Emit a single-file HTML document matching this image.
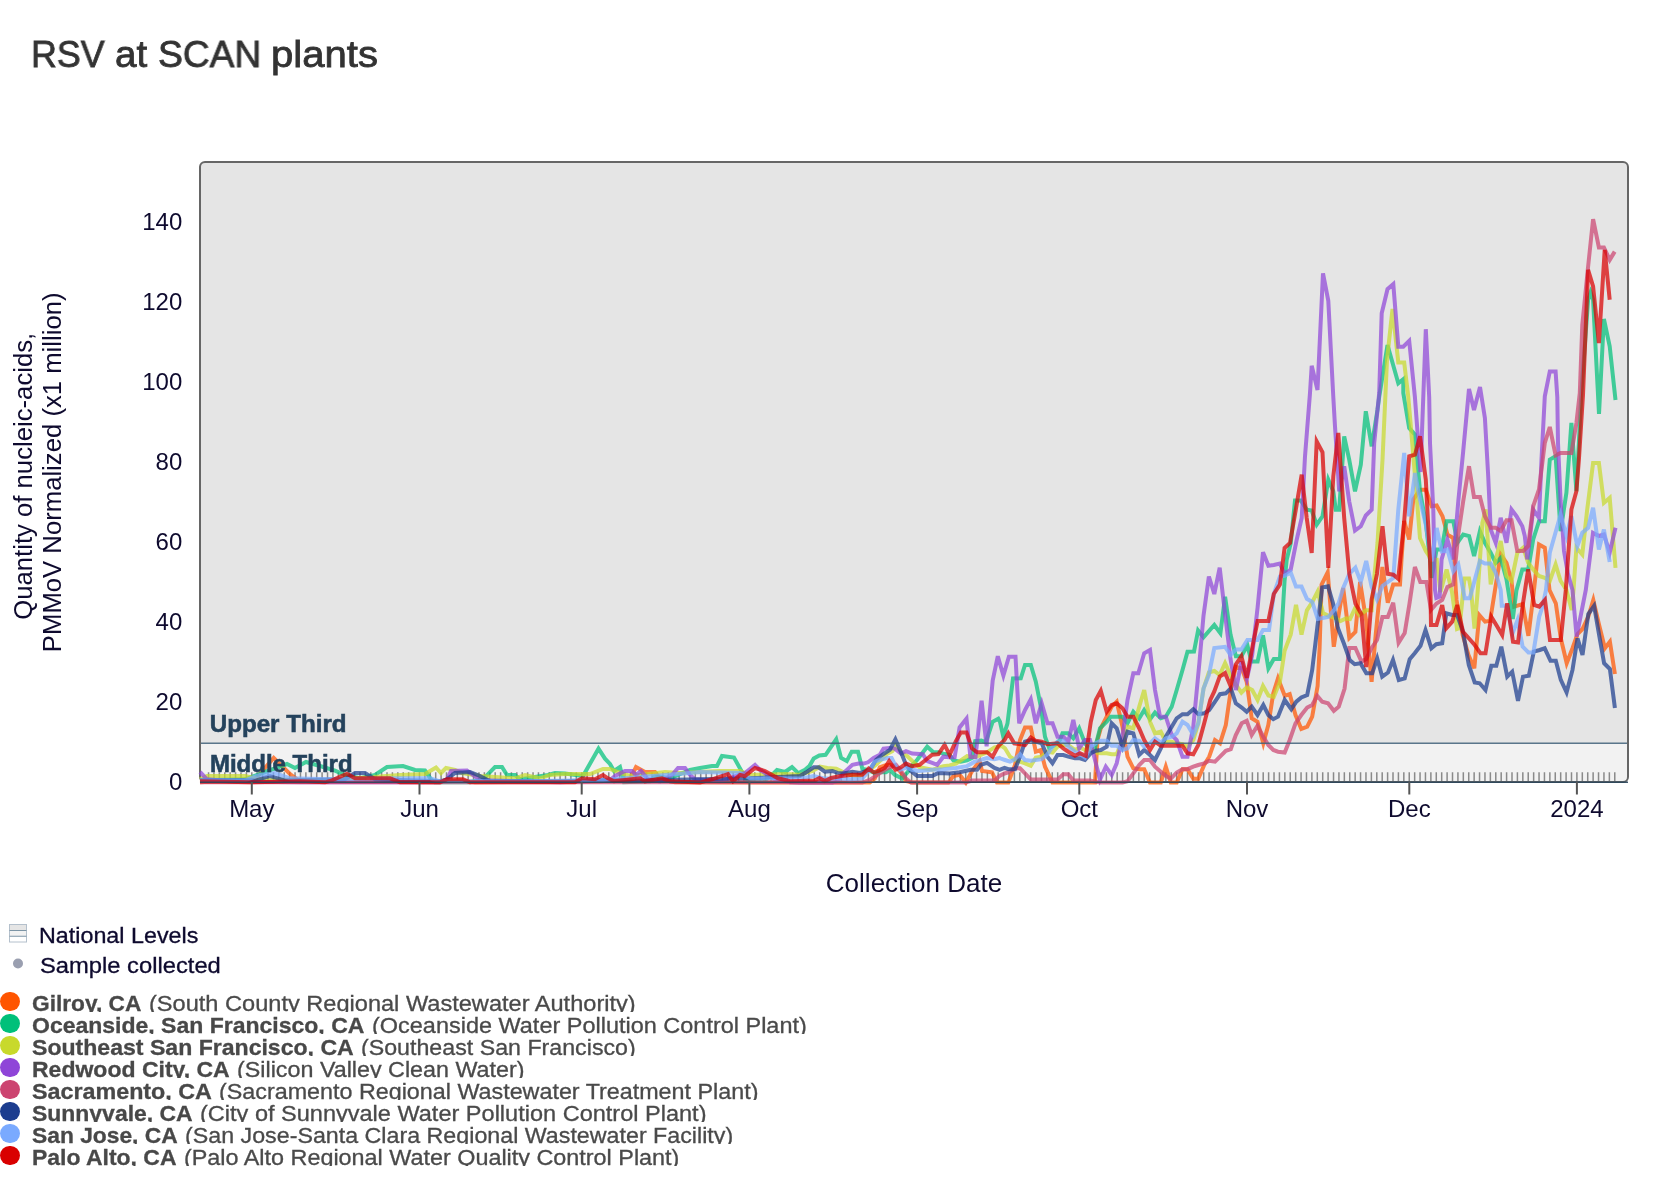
<!DOCTYPE html>
<html lang="en"><head><meta charset="utf-8"><title>RSV at SCAN plants</title>
<style>
html,body{margin:0;padding:0;background:#fff;}
body{width:1668px;height:1184px;position:relative;overflow:hidden;font-family:"Liberation Sans","DejaVu Sans",sans-serif;}
.sx{position:absolute;white-space:nowrap;transform-origin:0 0;display:block;will-change:transform;}
#title{position:absolute;left:0;margin:0;top:28.4px;height:52px;width:500px;font-size:37.5px;line-height:52px;font-weight:400;color:#333;-webkit-text-stroke:0.8px #333;}
#chart{position:absolute;left:0;top:0;will-change:transform;}
#chart text{font-family:"Liberation Sans",sans-serif;}
.ax{font-size:24px;fill:#0e0a2e;}
.at{font-size:26px;fill:#0e0a2e;}
.band{font-size:23.4px;font-weight:700;fill:#24425c;stroke:#24425c;stroke-width:0.55px;}
.lg1{font-size:21.6px;line-height:26px;color:#0e0a2e;-webkit-text-stroke:0.3px #0e0a2e;}
.row{position:absolute;left:0;height:20.7px;width:1000px;overflow:hidden;}
.row i{position:absolute;left:0;top:0;width:19.6px;height:19.6px;border-radius:50%;display:block;}
.row .sx{top:-0.75px;font-size:21.2px;line-height:26px;color:#4a4a4a;-webkit-text-stroke:0.3px #4a4a4a;}
.row b.sx{font-weight:700;color:#484848;}
</style></head><body>

<h1 id="title"><span class="sx" style="left:31.33px;transform:scaleX(0.9554)">RSV</span> <span class="sx" style="left:114.57px;transform:scaleX(1.029)">at</span> <span class="sx" style="left:158.01px;transform:scaleX(0.9921)">SCAN</span> <span class="sx" style="left:270.66px;transform:scaleX(1.0691)">plants</span></h1>
<svg id="chart" width="1668" height="1184" viewBox="0 0 1668 1184">
<rect x="200" y="162" width="1428" height="620" rx="5" ry="5" fill="#e5e5e5"/>
<rect x="201" y="743" width="1426" height="39" fill="#f2f2f2"/>
<path d="M208.53 772.3V782M213.94 772.3V782M219.35 772.3V782M224.76 772.3V782M230.16 772.3V782M235.57 772.3V782M240.98 772.3V782M246.39 772.3V782M251.80 772.3V782M257.21 772.3V782M262.62 772.3V782M268.02 772.3V782M273.43 772.3V782M278.84 772.3V782M284.25 772.3V782M289.66 772.3V782M295.07 772.3V782M300.48 772.3V782M305.88 772.3V782M311.29 772.3V782M316.70 772.3V782M322.11 772.3V782M327.52 772.3V782M332.93 772.3V782M338.34 772.3V782M343.75 772.3V782M349.15 772.3V782M354.56 772.3V782M359.97 772.3V782M365.38 772.3V782M370.79 772.3V782M376.20 772.3V782M381.61 772.3V782M387.01 772.3V782M392.42 772.3V782M397.83 772.3V782M403.24 772.3V782M408.65 772.3V782M414.06 772.3V782M419.47 772.3V782M424.87 772.3V782M430.28 772.3V782M435.69 772.3V782M441.10 772.3V782M446.51 772.3V782M451.92 772.3V782M457.33 772.3V782M462.73 772.3V782M468.14 772.3V782M473.55 772.3V782M478.96 772.3V782M484.37 772.3V782M489.78 772.3V782M495.19 772.3V782M500.59 772.3V782M506.00 772.3V782M511.41 772.3V782M516.82 772.3V782M522.23 772.3V782M527.64 772.3V782M533.05 772.3V782M538.45 772.3V782M543.86 772.3V782M549.27 772.3V782M554.68 772.3V782M560.09 772.3V782M565.50 772.3V782M570.91 772.3V782M576.31 772.3V782M581.72 772.3V782M587.13 772.3V782M592.54 772.3V782M597.95 772.3V782M603.36 772.3V782M608.77 772.3V782M614.17 772.3V782M619.58 772.3V782M624.99 772.3V782M630.40 772.3V782M635.81 772.3V782M641.22 772.3V782M646.63 772.3V782M652.04 772.3V782M657.44 772.3V782M662.85 772.3V782M668.26 772.3V782M673.67 772.3V782M679.08 772.3V782M684.49 772.3V782M689.90 772.3V782M695.30 772.3V782M700.71 772.3V782M706.12 772.3V782M711.53 772.3V782M716.94 772.3V782M722.35 772.3V782M727.76 772.3V782M733.16 772.3V782M738.57 772.3V782M743.98 772.3V782M749.39 772.3V782M754.80 772.3V782M760.21 772.3V782M765.62 772.3V782M771.02 772.3V782M776.43 772.3V782M781.84 772.3V782M787.25 772.3V782M792.66 772.3V782M798.07 772.3V782M803.48 772.3V782M808.88 772.3V782M814.29 772.3V782M819.70 772.3V782M825.11 772.3V782M830.52 772.3V782M835.93 772.3V782M841.34 772.3V782M846.74 772.3V782M852.15 772.3V782M857.56 772.3V782M862.97 772.3V782M868.38 772.3V782M873.79 772.3V782M879.20 772.3V782M884.60 772.3V782M890.01 772.3V782M895.42 772.3V782M900.83 772.3V782M906.24 772.3V782M911.65 772.3V782M917.06 772.3V782M922.47 772.3V782M927.87 772.3V782M933.28 772.3V782M938.69 772.3V782M944.10 772.3V782M949.51 772.3V782M954.92 772.3V782M960.33 772.3V782M965.73 772.3V782M971.14 772.3V782M976.55 772.3V782M981.96 772.3V782M987.37 772.3V782M992.78 772.3V782M998.19 772.3V782M1003.59 772.3V782M1009.00 772.3V782M1014.41 772.3V782M1019.82 772.3V782M1025.23 772.3V782M1030.64 772.3V782M1036.05 772.3V782M1041.45 772.3V782M1046.86 772.3V782M1052.27 772.3V782M1057.68 772.3V782M1063.09 772.3V782M1068.50 772.3V782M1073.91 772.3V782M1079.31 772.3V782M1084.72 772.3V782M1090.13 772.3V782M1095.54 772.3V782M1100.95 772.3V782M1106.36 772.3V782M1111.77 772.3V782M1117.17 772.3V782M1122.58 772.3V782M1127.99 772.3V782M1133.40 772.3V782M1138.81 772.3V782M1144.22 772.3V782M1149.63 772.3V782M1155.04 772.3V782M1160.44 772.3V782M1165.85 772.3V782M1171.26 772.3V782M1176.67 772.3V782M1182.08 772.3V782M1187.49 772.3V782M1192.90 772.3V782M1198.30 772.3V782M1203.71 772.3V782M1209.12 772.3V782M1214.53 772.3V782M1219.94 772.3V782M1225.35 772.3V782M1230.76 772.3V782M1236.16 772.3V782M1241.57 772.3V782M1246.98 772.3V782M1252.39 772.3V782M1257.80 772.3V782M1263.21 772.3V782M1268.62 772.3V782M1274.02 772.3V782M1279.43 772.3V782M1284.84 772.3V782M1290.25 772.3V782M1295.66 772.3V782M1301.07 772.3V782M1306.48 772.3V782M1311.88 772.3V782M1317.29 772.3V782M1322.70 772.3V782M1328.11 772.3V782M1333.52 772.3V782M1338.93 772.3V782M1344.34 772.3V782M1349.74 772.3V782M1355.15 772.3V782M1360.56 772.3V782M1365.97 772.3V782M1371.38 772.3V782M1376.79 772.3V782M1382.20 772.3V782M1387.60 772.3V782M1393.01 772.3V782M1398.42 772.3V782M1403.83 772.3V782M1409.24 772.3V782M1414.65 772.3V782M1420.06 772.3V782M1425.46 772.3V782M1430.87 772.3V782M1436.28 772.3V782M1441.69 772.3V782M1447.10 772.3V782M1452.51 772.3V782M1457.92 772.3V782M1463.33 772.3V782M1468.73 772.3V782M1474.14 772.3V782M1479.55 772.3V782M1484.96 772.3V782M1490.37 772.3V782M1495.78 772.3V782M1501.19 772.3V782M1506.59 772.3V782M1512.00 772.3V782M1517.41 772.3V782M1522.82 772.3V782M1528.23 772.3V782M1533.64 772.3V782M1539.05 772.3V782M1544.45 772.3V782M1549.86 772.3V782M1555.27 772.3V782M1560.68 772.3V782M1566.09 772.3V782M1571.50 772.3V782M1576.91 772.3V782M1582.31 772.3V782M1587.72 772.3V782M1593.13 772.3V782M1598.54 772.3V782M1603.95 772.3V782M1609.36 772.3V782M1614.77 772.3V782" stroke="#8a8a8a" stroke-width="1.5" fill="none"/>
<rect x="200" y="162" width="1428" height="620" rx="5" ry="5" fill="none" stroke="#666" stroke-width="2"/>
<g fill="none" stroke-width="4" stroke-opacity="0.72" stroke-linejoin="miter">
<path d="M200,782.3 255,779.3 273.7,758 291,775 300,781.3 440,782.3 460,780.3 475,782.3 600,781.3 630,779.3 636,767 645,772 655,772 660,779.3 675,782.3 790,782.6 800,782.6 869.8,782.6 874.8,778.6 879.8,767.3 884.8,765.4 889.8,764.8 894.8,766.1 899.8,771 906,781.1 912.2,782.6 948.4,782.6 953.4,776 959.6,774.8 965.8,782.6 972.1,771 979.6,761.1 982,771 992,772.3 997,782.6 1004.5,782.6 1008.3,782.6 1015,765 1020,740 1025,727.5 1030.8,727.5 1035.8,751.7 1040.8,750 1045,766.7 1052.5,782.6 1095,782.6 1097.5,740 1100.8,728.3 1106.7,716.7 1111.7,706.7 1116.7,701.7 1122.5,726.7 1127.5,756.7 1133.3,768.3 1139.2,769.2 1144.2,769.2 1150,782.6 1160.8,782.6 1165.8,766.7 1170.8,782.6 1176.7,782.6 1182.5,769.2 1187.5,769.2 1193.3,778.8 1198.3,778.8 1204.2,765 1209.2,756.7 1215,740 1220,743.3 1225.8,725 1230.8,690 1235.8,666.7 1241.7,668.3 1246.7,681.7 1251.7,718.3 1257.5,721.7 1263.3,743.3 1268.3,725 1273.3,693.3 1278,678.3 1284.7,695.8 1289.7,694 1295.5,715 1301.3,729 1307.2,726.7 1312.2,716.7 1317.6,686 1319.6,648 1321.6,584.6 1327.7,572.4 1333.8,646.8 1338.5,615.7 1343.2,588 1349.3,638 1355.4,631.9 1360.1,581.9 1366.2,621 1371.6,681.9 1375.7,634.6 1382.4,567 1387.8,602.8 1393.2,584.6 1400,584.6 1401.5,559.4 1404.2,521 1409.2,539.5 1413.3,499.5 1420,489.7 1425.8,489.7 1431.7,506.3 1436.7,505.5 1442.5,516.3 1447.5,534.7 1453.3,538 1455.8,590 1456.5,600 1462.7,635 1468.5,655 1474.3,668.3 1479.3,615 1485.1,621.7 1490.1,620.8 1495,590 1500.7,554.4 1506.5,562.8 1511.5,581 1514.2,606.6 1522.6,604 1528.4,635.8 1533.3,596 1539,544.5 1544.8,547.8 1549.5,590 1555.8,603.3 1560.8,638.3 1566.7,663.2 1572.5,648.2 1577.5,634 1582.5,629 1588.3,616.6 1593.3,600 1599.1,625 1604.9,648.2 1609.9,641.6 1614.9,674" stroke="#ff5500"/>
<path d="M200,780.3 245,779.3 265,772 287,764 295,768 306,762 320,766 335,770.6 345,775 360,778.3 375,775 387,767 403,766 415,770 425,770.5 431,779.3 435,782.3 470,782.3 483,779.3 495,767 502,767 507,775 515,775 520,779.3 548,775 555,773 565,773.5 583,776 598.5,748.7 605,758.7 610,764 614,771 620,767 624,782.3 650,781.3 655,776 670,778.3 690,770 700,768 712,766 717,766 722,756 734,757.5 742,772 748,781.3 765,780.3 772,775 777,770 785,772 792,767 798,773 800,772.3 805,769.8 809.4,766.1 813.7,758.6 819.3,755.5 825.6,754.8 836.2,739.3 841.1,758 846.8,761.1 851.7,751.7 858,751.7 862.3,768.6 867.3,769.8 874.8,772.9 879.8,772.3 886,772.3 889.8,769.8 894.8,774.8 902.2,778.6 908.5,771 912.8,764.8 917.2,759.8 927.2,746.7 933.4,752.3 938.4,752.3 943.4,753.6 949.6,754.8 953.4,760.4 960.8,761.7 967.1,760.4 972.1,758 975.2,741.1 981.4,740.5 985.8,742.4 992.6,721.8 998.3,718.7 1000,721.7 1003.3,736.7 1007.5,723.3 1013,678.5 1020.8,678.3 1025,665 1030.8,665 1035.8,681.7 1040.8,706.7 1045,736.7 1049.2,748.3 1055,745 1060,740 1062.5,733.3 1068.3,733.3 1073.3,738.3 1079.2,728.3 1085,743.3 1090,750 1095,748.3 1100,728.3 1106.7,721.7 1110.8,716.7 1122.5,716.7 1127.5,723.3 1133.3,711.7 1139.2,718.3 1144.2,710 1150,719.2 1155,712.5 1160.8,718.3 1165.8,716.7 1171.7,706.7 1176.7,690 1182.5,670 1187.5,651.7 1194,651.5 1198.1,630.5 1203.5,637.3 1214.3,625 1220.4,633.2 1225.1,596.8 1230.5,634.6 1235.9,656.2 1241.4,656.2 1247.4,645.4 1251.5,661.6 1257.6,661.6 1263,635.3 1268.4,668.4 1273.8,659 1279.9,659 1284.6,580.5 1286.7,559.7 1290.8,543 1295,500.5 1300.8,500.5 1306.7,509.7 1311.7,510.5 1316.7,524.7 1322.5,516.3 1328.3,479.7 1333.3,491.3 1335.8,509.7 1339.2,509.7 1344.2,436.3 1349.2,459.7 1355,491.3 1360.8,464.7 1365.8,411.3 1371.7,446.3 1377.5,409.7 1379.2,397 1387.5,345 1398.3,383.3 1403.3,379.2 1403.3,393 1409.2,428 1415,434.6 1420,491.2 1425.8,522.8 1430,559.4 1431.6,577.8 1436.6,549.5 1441.6,549.5 1446.6,521.2 1453.3,521.2 1457.4,542.8 1463.2,534.5 1469.1,536.1 1474.1,556.1 1479.9,531.1 1484.9,542.8 1490.7,552.8 1495.7,562.8 1500.7,557.8 1506.5,579.4 1512.8,619 1516.5,590.1 1522.3,569.4 1528.2,569.4 1533.2,539.5 1539,521.2 1544.8,521.2 1549.8,459.6 1555.6,456.2 1560.6,531.1 1566.4,492.9 1571.4,423 1576.4,491.2 1581.4,393 1588.1,299.8 1590.6,292.3 1593.1,299.8 1599,414 1603.9,319 1609.7,346.4 1615.5,400" stroke="#00c07a"/>
<path d="M200,779.3 207,776 245,776 260,779.3 330,780.3 400,775 425,774 436,767.5 441,773 446,768 455,770 462,773 480,776 515,778.3 525,775 540,778.3 550,775 565,774 590,774 603,769 610,769 618,772 630,776 665,772 680,773 720,771 740,771 750,775 785,774 800,774.8 812.5,771 820,766.7 827.4,767.9 836.2,768.6 843.6,772.3 849.9,774.8 859.9,776 869.8,769.8 877.3,763.6 887.3,753.6 892.3,751.1 896,746.1 901,752.3 907.2,756.1 913.5,762.3 919.7,767.3 932.2,769.8 943.4,766.1 949.6,765.4 955.9,763.6 967.1,756.1 974.6,757.3 980.8,754.8 987,752.3 994.5,747.4 1002,746.1 1005,748.3 1010,756.7 1015,760 1020,761.7 1025,763.3 1030.8,765.8 1035.8,757.5 1041.7,756.7 1047.5,751.7 1052.5,752.5 1057.5,746.7 1063.3,745 1068.3,745 1075,750 1080,747.5 1085,750 1090.8,749.2 1095.8,752.5 1100.8,753.3 1106.7,753.3 1111.7,754.2 1116.7,754.2 1122.5,740 1127.5,726.7 1133.3,728.3 1139.2,706.7 1144.2,690 1150,721.7 1155,733.3 1160.8,731.7 1165.8,741.7 1171.7,741.7 1176.7,743.3 1182.5,744.2 1187.5,746.7 1193.3,740 1198.3,723.3 1203.5,688.6 1208.9,672.4 1214.3,671 1219.7,675 1225.1,663 1230.5,675 1235.9,684.6 1241.4,692.7 1246.8,687.3 1252.2,690 1257.6,700 1263,686 1268.4,695.4 1273.8,696.8 1279.9,682 1284.6,650.8 1290.7,634.6 1296,604.9 1301.5,634.6 1306.9,610.3 1312.3,602 1317.7,591.4 1323,613 1329,616 1335,618 1340.5,621 1346,618.4 1350,619 1354.7,609 1359.5,615 1366.2,610.3 1371.6,610.3 1373.6,584.6 1377.5,543 1382.5,460 1387,360 1392.5,309 1398.3,362.5 1404.2,362.5 1408.3,397 1410.8,426 1415,476 1420,538 1425.8,551 1431.7,559.7 1436.7,559.7 1440.5,592 1446.6,569.5 1452,592 1457,629 1459.5,628 1463.3,590 1464.5,578.6 1469,578.6 1471,590 1474.5,628.5 1477.8,590 1479.9,560 1482.4,522.8 1485.7,509.5 1490.7,584.4 1495.7,559.4 1500.7,541 1506.5,576 1511.5,581 1517.3,552.8 1523.2,547.8 1528.2,562.8 1533.2,569.4 1539,576 1544.8,577.8 1549.8,581 1555.6,564.4 1560.6,581 1566.4,590 1571.7,610 1573.5,590 1576.4,547.8 1582.3,554.5 1587.2,509.5 1593.1,462.9 1598.9,462.9 1603.9,502.9 1609.7,497.9 1615.5,567.8" stroke="#c8d92c"/>
<path d="M200,772 207,779.3 230,781.3 300,782.3 440,782.3 447,779.3 451,771 467,770.5 473,775 480,780.3 560,782.3 610,780.3 615,776 625,771 632,771 636,775 641,771 648,779.3 660,781.3 672,775 678,768 685,768 690,775 695,779.3 720,781.3 745,773 755,765 760,770 765,773 775,779.3 790,782.3 800,782.6 824.9,782.6 832.4,782.6 837.4,781.1 844.3,772.3 852.4,764.8 858.6,763.6 863.6,763.6 868,762.3 873.6,758 879.8,754.8 883.5,748.6 889.8,748 894.8,748.6 901,753.6 906,751.1 912.2,753.6 922.8,754.2 927.2,761.1 932.2,762.9 937.2,764.8 943.4,756.7 949.6,757.3 954.6,757.3 959.6,727.4 966.5,718.7 970.4,757 975.5,757 981.6,700.8 986.6,746.4 992.7,680.5 997.8,656.2 1003.4,675.5 1008.9,656.7 1015.5,656.7 1019.2,723.3 1025,710 1030.8,699.2 1035.8,723.3 1041.7,703.3 1047.5,723.3 1052.5,723.3 1057.5,736.7 1063.3,736.7 1068.3,741.7 1073.3,720 1079.2,748.3 1085,740 1090,740 1095,760 1100,779.6 1105.8,766.7 1111.7,775 1116.7,763.3 1122.5,736.7 1127.5,700 1133.3,673.3 1138.3,673.3 1144.2,653.3 1150,650 1155,690 1160,716.7 1165.8,716.7 1171.7,735 1176.7,740 1182.5,756.7 1187.5,756.7 1193.3,726.7 1199.5,661.6 1203.5,615.7 1208.9,576.5 1214.3,594 1219.7,567.7 1225.1,614.3 1230.5,658.9 1235.9,690 1241.4,661.6 1246.8,679.2 1252.2,654.9 1257.6,607.6 1263,552.2 1268.4,565.7 1273.8,565 1279.9,563.6 1284.6,573.8 1290.7,569.7 1296.7,539.7 1301.7,518 1305,456.3 1310,393 1311.7,365.8 1317.5,390 1323,273.3 1328.3,300.8 1333.3,397 1335,426.3 1339.2,491.3 1344.2,466.3 1349.2,501.3 1355,530.5 1360.8,526.3 1365.8,515.5 1371.7,509.7 1374.2,443 1379.2,393 1381.7,313.3 1387.5,289.2 1393.3,284.2 1398.3,346.7 1403.3,346.7 1409.2,340.8 1414.9,397 1420.5,472 1425.8,329.2 1429.2,397 1430,443 1433.3,509.7 1435,590 1436.3,598 1439.7,596.7 1441.6,559.4 1447.4,539.5 1453.3,559.4 1458.3,501.2 1463.2,451.3 1469,389 1474,410 1480,387 1484.9,418 1488.2,476 1490.7,529.5 1495.7,542.8 1500.7,517.8 1506.5,542.8 1511.5,509.5 1516.5,516.2 1522.3,526.2 1524.8,536.1 1527.3,559.4 1533.2,509.5 1539,517.8 1541.5,459.6 1544.8,396.3 1549.8,371.4 1555.6,371.4 1557.3,397 1558,443 1560.6,501 1564,551 1568,574 1572.5,590 1576.6,636.6 1585.8,590 1593,532.8 1598.9,536 1603.9,534.5 1609.7,552.8 1615.5,527.8" stroke="#8f45d8"/>
<path d="M200,782.3 400,782.3 600,782.3 790,782.3 800,782.6 862.3,782.6 869.8,779.8 877.3,774.8 884.8,769.8 889.8,767.3 896,764.8 901,771 906,778.6 911,782.6 949.6,782.6 959.6,782.6 965.8,782.6 972.1,780.5 994.5,780.5 999.5,776 1004.5,773.5 1008.3,772.5 1015,768.3 1020,768.3 1025,773.3 1030.8,779.6 1035.8,779.6 1057.5,779.6 1063.3,774.2 1068.3,774.2 1073.3,780.5 1090,780.5 1100,782.6 1122.5,782.6 1127.5,781.3 1133.3,773.3 1139.2,765 1144.2,760 1150,760 1155,766.7 1160.8,771.7 1165.8,775.8 1170.8,778.8 1176.7,772.5 1182.5,769.2 1187.5,769.2 1193.3,766.7 1198.3,765 1204.2,763.3 1209.2,760.8 1215,761.7 1220,756.7 1225.8,750.8 1230.8,749.2 1235.8,735 1241.7,723.3 1246.7,720.8 1251.7,735 1257.5,725.8 1263.3,736.7 1268.3,745 1273.3,750 1278,751.7 1284.7,752.5 1289.7,740 1295.5,723.3 1301.3,715 1307.2,707.5 1312.2,705 1317.2,695.8 1322.2,701.7 1328,703.3 1333.8,710.8 1338.8,706.7 1344.6,688.6 1349.3,648 1355.4,648 1361.5,661.6 1366.2,659 1371.6,648 1377,640 1382.4,617 1387.8,617 1393.2,602.8 1398.6,642.7 1404.7,633 1409.5,603.5 1414.9,567 1420.3,581.9 1426.4,581.9 1431,610 1436.5,603.5 1442.2,600 1447.4,587 1453.3,584.4 1458.3,534.5 1463.2,501.2 1469,466.2 1474,497 1480,497 1484.9,516.2 1490.7,527.8 1495.7,527.8 1500.7,531 1506.5,520.3 1511.5,520.3 1517.3,551 1523.2,551 1528.2,546 1533.2,506.2 1539,489.5 1544.8,443 1549.8,427 1555.6,455.4 1560.6,453 1571.4,453 1576.4,423 1579.8,393 1582.3,324.8 1588.1,266.6 1593.1,219.1 1598.9,247.4 1603.9,247.4 1609.7,259.9 1614.7,251.6" stroke="#cc4470"/>
<path d="M200,780.3 255,780.3 270,776 285,780.3 345,779.3 355,773 365,773 375,779.3 440,781.3 447,779.3 455,773 470,772 480,776 490,781.3 560,781.3 600,780.3 650,780.3 700,779.3 750,778.3 800,776 806.2,772.3 813.7,767.3 818.7,767.3 824.9,771.7 832.4,771 837.4,772.9 843.6,773.5 852.4,771.7 859.9,772.9 869.8,769.8 876.1,759.8 882.3,754.8 889.8,749.9 895.4,739.3 901,752.3 906,764.8 911,771 917.2,776 932.2,776 938.4,772.9 949.6,773.5 959.6,772.3 970.8,769.8 977.1,769.8 980.8,764.8 987,762.9 994.5,767.9 999.5,769.8 1004.5,767.9 1008.3,769.2 1015,769.2 1020,756.7 1025,741.7 1030.8,740 1035.8,741.7 1041.7,743.3 1047.5,756.7 1052.5,763.3 1057.5,755 1063.3,755 1068.3,756.7 1075,758.3 1080,758.3 1085,760 1090.8,753.3 1095.8,750.8 1100.8,750 1106.7,746.7 1111.7,723.3 1116.7,728.3 1122.5,746.7 1127.5,731.7 1133.3,733.3 1139.2,755 1144.2,750 1150,755 1155,760 1160.8,748.3 1165.8,736.7 1171.7,726.7 1176.7,718.3 1182.5,714.2 1187.5,714.2 1193.3,709.2 1198.3,714.2 1204.2,713.3 1209.2,710 1215,701.7 1220,694.2 1225.8,693.3 1230.8,688.3 1235.8,703.3 1241.7,707.5 1246.7,711.7 1251.7,706.7 1257.5,715 1263.3,705 1268.3,715 1273.3,719.2 1278,716.7 1284.7,700 1291.3,709.2 1296.3,701.7 1301.3,697.5 1307.2,695 1312.2,670 1317.2,628.3 1322.2,587.5 1328,586.3 1333,603.3 1338,628.3 1343.8,643.3 1349.7,660 1354.7,664.2 1360.5,663.3 1366.3,673.3 1372.2,673.3 1377.2,658.3 1382.2,676.7 1388,672.5 1393,660 1398.8,680 1404.7,678.3 1409.7,659.2 1414.7,653.3 1420.5,645.8 1425.5,630 1431.3,648.3 1436.3,644.2 1442.2,643.3 1446.3,613.3 1452.2,615 1457.2,615 1463,631.7 1468.8,665 1474.7,682.5 1479.7,683.3 1485.5,690 1491.3,665.8 1496.3,665.8 1501.3,646.7 1507.2,676.7 1512.2,671.7 1518,700.8 1523,676.7 1528.8,675.8 1533.8,651.7 1539.7,650 1544.7,648.3 1550.5,660.8 1555.8,660.7 1560.8,679.9 1566.6,692.3 1572.5,669.9 1577.5,638.3 1582.5,654.9 1588.3,614.1 1594.1,605.8 1599.1,634.9 1604.1,663.2 1609.9,669 1614.9,708.1" stroke="#1c3d8f"/>
<path d="M200,780.3 245,780.3 260,775 275,773 290,778.3 330,779.3 400,778.3 430,778.3 440,781.3 520,781.3 600,780.3 690,773 700,772 740,773 750,778.3 800,778.6 813.7,776 824.9,778.6 837.4,778.6 849.9,779.2 862.3,778.6 869.8,769.8 874.8,761.7 879.8,759.8 887.3,758 891.6,758 896,766.7 899.8,769.8 906,767.9 912.2,769.8 918.5,771 932.2,769.8 943.4,769.2 955.9,767.9 967.1,766.1 974.6,761.7 980.8,759.8 987,758 994.5,759.2 999.5,758 1000,758.3 1005,760 1010,761.7 1015,759.2 1020,754.2 1025,760 1030.8,760.8 1041.7,759.2 1047.5,754.2 1052.5,746.7 1057.5,741.7 1063.3,740.8 1068.3,746.7 1075,751.7 1080,754.2 1085,757.5 1090.8,746.7 1095.8,743.3 1100.8,740.8 1106.7,740.8 1111.7,745.8 1116.7,745.8 1122.5,750 1127.5,748.3 1133.3,740 1139.2,740.8 1144.2,746.7 1150,743.3 1155,738.3 1160.8,742.5 1165.8,738.3 1171.7,736.7 1176.7,733.3 1182.5,721.7 1187.5,725 1193.3,735 1198.3,723.3 1203.5,688.6 1208.9,675 1214.3,648 1225.1,646.8 1230.5,654.9 1235.9,649.5 1241.4,649.5 1247.4,640 1257.6,640 1263,629.9 1269,629.9 1273.8,594 1279.9,576.5 1284.6,575.8 1290.7,572.4 1296,586.6 1301.5,586.6 1306.9,598.8 1312.3,602 1317.7,619 1328.4,617 1333.8,610.3 1338.5,603.5 1343.2,588 1349.3,573.8 1355.4,567.7 1360.8,581.9 1366.2,561 1371.6,586.6 1377,599.5 1382.4,586 1393.3,578 1398.3,509.7 1404.2,453 1409.2,516.3 1415,473 1420,499.7 1425.8,524.7 1431.7,561.3 1436.7,528 1441.7,551.3 1447.5,549.7 1453.3,571.3 1458.3,564.5 1463.2,590 1464.7,598.3 1469.7,598.3 1472,590 1479.9,561 1484.9,563.6 1490.7,563.6 1495.7,572.8 1500.7,590 1501.8,605.8 1506.8,605.8 1512.6,633.3 1517.6,620 1520,633 1522.6,646.6 1528.4,652.4 1533.4,652.4 1539.2,616.6 1542.5,606.6 1546,590 1549.8,552.8 1560.6,514.5 1566.4,536.1 1571.4,516.2 1577.3,546.1 1582.3,532.8 1588.1,527.8 1593.1,507.8 1598.9,549.5 1603.9,529.5 1609.7,562" stroke="#7aaaff"/>
<path d="M200,781.3 250,782.3 300,781.3 325,782.3 332,780.3 347,773.7 355,778.3 390,778.3 400,782.3 440,782.3 447,779.3 463,779.3 470,782.3 575,782.3 582,778.3 595,779.3 603,775 608,778.3 614,781.3 640,778.3 645,781.3 662,778.3 670,781.3 700,782.6 712,779.3 728,774 733,781.3 740,775 745,776 755,768 765,771 778,778.3 790,781.3 800,781.1 815,780.5 819.3,778 824.9,781.1 831.2,778 841.1,776 852.4,774.8 862.3,774.8 868.6,768.6 873.6,772.3 879.8,770.4 884.8,767.9 889.2,761.1 895.4,769.8 901,767.3 906,763.6 912.2,766.1 919.7,764.8 925.9,759.8 932.2,754.8 938.4,754.2 944.6,744.9 949.6,754.8 955.9,741.1 960.8,732.4 966.5,732.4 972.1,748.6 977.1,752.3 987,752.3 992.6,756.7 998.3,746.1 1004.5,739.9 1008.3,733.3 1014.2,743.3 1025,745 1030.8,737.5 1035.8,740.8 1041.7,741.7 1047.5,744.2 1057.5,743.3 1063.3,748.3 1068.3,751.7 1075,755.8 1080,753.3 1085.8,755.8 1090.8,721.7 1095.8,700 1100.8,690.8 1106.7,711.7 1111.7,705 1116.7,703.3 1122.5,708.3 1127.5,716.7 1133.3,716.7 1139.2,728.3 1144.2,740 1150,750 1155,741.7 1160.8,745.8 1176.7,745.8 1182.5,745.8 1187.5,753.3 1193.3,754.2 1198.3,745 1204.2,723.3 1210.3,700 1214.3,691.4 1219.7,676.5 1225.1,673 1230.5,686 1235.9,664.3 1241.4,656.2 1246.8,677.8 1252.2,648 1257.6,621 1268.4,621 1273.8,594 1279.9,584.6 1284.6,548 1290,543 1295.8,509.7 1301.7,474.7 1306.7,518 1311.7,553 1316.7,441.3 1322.5,452.2 1328.3,568 1333.3,476.3 1338.3,433 1344.2,518 1349.3,573.8 1355.4,603.5 1361.5,614.3 1366.2,667 1371.6,599.5 1377,573.8 1382.5,526.3 1387.5,573.8 1393.3,574.7 1398.3,578.8 1404.2,521.3 1409.2,456.3 1415,454.7 1420,436.3 1425.8,479.7 1430,559.7 1431,625 1436.5,625 1442.2,605 1446.3,628.3 1452.2,621.7 1457.2,605 1463,631.7 1468.8,638.3 1474.7,645 1480.5,653.3 1485.5,653.3 1491.3,616.7 1496.3,625 1502.2,635 1507.2,603.3 1513,641.7 1518,642.5 1523,603.3 1528.2,569.4 1534.2,605 1539.2,606.6 1545,600 1550,640 1560.8,640 1565.8,590 1571.4,509.5 1576.4,491.2 1578.9,459.6 1583,395 1588.1,269.9 1593.1,286.5 1598.9,343.1 1604.7,249.9 1609.7,299.8" stroke="#d90000"/>
</g>
<line x1="201" y1="743.2" x2="1627" y2="743.2" stroke="#3f6079" stroke-opacity="0.85" stroke-width="1.6"/>
<line x1="200" y1="782.2" x2="1628" y2="782.2" stroke="#2a465b" stroke-opacity="0.9" stroke-width="1.6"/>
<text class="band" transform="translate(209.77,732.4) scale(1.0323,1)">Upper Third</text>
<text class="band" transform="translate(209.97,771.8) scale(1.0263,1)">Middle Third</text>
<text class="ax" x="182.3" y="790.4" text-anchor="end">0</text>
<text class="ax" x="182.3" y="710.4" text-anchor="end">20</text>
<text class="ax" x="182.3" y="630.4" text-anchor="end">40</text>
<text class="ax" x="182.3" y="550.4" text-anchor="end">60</text>
<text class="ax" x="182.3" y="470.4" text-anchor="end">80</text>
<text class="ax" x="182.3" y="390.4" text-anchor="end">100</text>
<text class="ax" x="182.3" y="310.4" text-anchor="end">120</text>
<text class="ax" x="182.3" y="230.4" text-anchor="end">140</text>
<line x1="251.8" y1="782" x2="251.8" y2="794.5" stroke="#555" stroke-width="2"/>
<text class="ax" x="251.8" y="817" text-anchor="middle">May</text>
<line x1="419.5" y1="782" x2="419.5" y2="794.5" stroke="#555" stroke-width="2"/>
<text class="ax" x="419.5" y="817" text-anchor="middle">Jun</text>
<line x1="581.7" y1="782" x2="581.7" y2="794.5" stroke="#555" stroke-width="2"/>
<text class="ax" x="581.7" y="817" text-anchor="middle">Jul</text>
<line x1="749.4" y1="782" x2="749.4" y2="794.5" stroke="#555" stroke-width="2"/>
<text class="ax" x="749.4" y="817" text-anchor="middle">Aug</text>
<line x1="917.1" y1="782" x2="917.1" y2="794.5" stroke="#555" stroke-width="2"/>
<text class="ax" x="917.1" y="817" text-anchor="middle">Sep</text>
<line x1="1079.3" y1="782" x2="1079.3" y2="794.5" stroke="#555" stroke-width="2"/>
<text class="ax" x="1079.3" y="817" text-anchor="middle">Oct</text>
<line x1="1247" y1="782" x2="1247" y2="794.5" stroke="#555" stroke-width="2"/>
<text class="ax" x="1247" y="817" text-anchor="middle">Nov</text>
<line x1="1409.3" y1="782" x2="1409.3" y2="794.5" stroke="#555" stroke-width="2"/>
<text class="ax" x="1409.3" y="817" text-anchor="middle">Dec</text>
<line x1="1576.9" y1="782" x2="1576.9" y2="794.5" stroke="#555" stroke-width="2"/>
<text class="ax" x="1576.9" y="817" text-anchor="middle">2024</text>
<text class="at" x="914" y="891.8" text-anchor="middle">Collection Date</text>
<text class="at" style="font-size:25.7px" transform="translate(31.6,476.3) rotate(-90)" text-anchor="middle">Quantity of nucleic-acids,</text>
<text class="at" style="font-size:25.7px" transform="translate(61.2,472.3) rotate(-90)" text-anchor="middle">PMMoV Normalized (x1 million)</text>
<rect x="9.5" y="924.5" width="17" height="17.5" fill="#fff" stroke="#b4c0cc" stroke-width="1"/>
<rect x="10" y="925" width="16" height="5.5" fill="#e5e5e5"/><rect x="10" y="930.5" width="16" height="5.5" fill="#f2f2f2"/>
<path d="M9.5 930.5H26.5M9.5 936.2H26.5" stroke="#7d95a6" stroke-width="1.1"/>
<circle cx="18" cy="963.5" r="5" fill="#9a9fb0"/>
</svg>
<div class="lg1 sx" style="top:922.8px;left:39.14px;transform:scaleX(1.0793)">National Levels</div>
<div class="lg1 sx" style="top:952.8px;left:40.2px;transform:scaleX(1.0994)">Sample collected</div>
<div class="row" style="top:991.5px"><i style="background:#ff5500"></i><b class="sx" style="left:31.63px;transform:scaleX(1.0713)">Gilroy, CA</b> <span class="sx" style="left:149.09px;transform:scaleX(1.1129)">(South County Regional Wastewater Authority)</span></div>
<div class="row" style="top:1013.5px"><i style="background:#00c07a"></i><b class="sx" style="left:31.61px;transform:scaleX(1.0856)">Oceanside, San Francisco, CA</b> <span class="sx" style="left:372.29px;transform:scaleX(1.1077)">(Oceanside Water Pollution Control Plant)</span></div>
<div class="row" style="top:1035.5px"><i style="background:#c8d92c"></i><b class="sx" style="left:31.61px;transform:scaleX(1.0888)">Southeast San Francisco, CA</b> <span class="sx" style="left:360.9px;transform:scaleX(1.0952)">(Southeast San Francisco)</span></div>
<div class="row" style="top:1057.5px"><i style="background:#8f45d8"></i><b class="sx" style="left:31.61px;transform:scaleX(1.0856)">Redwood City, CA</b> <span class="sx" style="left:237.4px;transform:scaleX(1.1)">(Silicon Valley Clean Water)</span></div>
<div class="row" style="top:1079.5px"><i style="background:#cc4470"></i><b class="sx" style="left:31.6px;transform:scaleX(1.0994)">Sacramento, CA</b> <span class="sx" style="left:219.0px;transform:scaleX(1.1002)">(Sacramento Regional Wastewater Treatment Plant)</span></div>
<div class="row" style="top:1101.5px"><i style="background:#1c3d8f"></i><b class="sx" style="left:31.62px;transform:scaleX(1.083)">Sunnyvale, CA</b> <span class="sx" style="left:200.09px;transform:scaleX(1.1104)">(City of Sunnyvale Water Pollution Control Plant)</span></div>
<div class="row" style="top:1123.5px"><i style="background:#7aaaff"></i><b class="sx" style="left:31.62px;transform:scaleX(1.0761)">San Jose, CA</b> <span class="sx" style="left:185.3px;transform:scaleX(1.097)">(San Jose-Santa Clara Regional Wastewater Facility)</span></div>
<div class="row" style="top:1145.5px"><i style="background:#d90000"></i><b class="sx" style="left:31.62px;transform:scaleX(1.0833)">Palo Alto, CA</b> <span class="sx" style="left:184.2px;transform:scaleX(1.1031)">(Palo Alto Regional Water Quality Control Plant)</span></div>
</body></html>
